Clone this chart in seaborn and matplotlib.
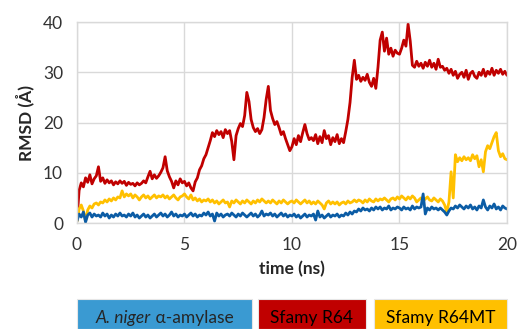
"""RMSD over time for three amylase models."""
import numpy as np
import pandas as pd
import matplotlib
matplotlib.use("Agg")
import matplotlib.pyplot as plt
import matplotlib.patches as mpatches
import seaborn as sns

# ── data (0.1 ns steps) ───────────────────────────────────────────────────────
TIME = np.linspace(0, 20, 201)

RMSD_RED = [
    0.5, 6.5, 8.0, 7.2, 9.0, 8.1, 9.6, 7.8, 8.8, 9.4,
    11.2, 8.3, 9.0, 7.9, 8.6, 8.0, 8.4, 7.6, 8.2, 7.8,
    8.4, 7.9, 8.3, 7.5, 8.1, 7.7, 7.9, 7.4, 8.0, 7.6,
    7.9, 8.4, 8.0, 9.2, 10.3, 8.8, 9.6, 8.9, 9.4, 10.1,
    11.0, 13.2, 10.4, 9.2, 8.3, 7.0, 8.4, 7.6, 8.8, 8.0,
    8.3, 7.4, 8.0, 7.0, 6.4, 8.2, 9.0, 10.6, 11.4, 12.8,
    13.6, 15.0, 16.4, 18.0, 17.2, 18.4, 17.6, 18.2, 17.0, 18.6,
    17.8, 18.4, 16.2, 12.6, 17.4, 18.8, 19.8, 19.2, 21.4, 26.0,
    24.2, 20.6, 19.0, 18.2, 18.8, 17.8, 18.6, 21.0, 24.6, 27.2,
    22.4, 20.8, 19.6, 20.2, 19.0, 17.6, 18.2, 16.8, 15.6, 14.4,
    15.2, 16.8, 15.6, 17.4, 16.2, 18.0, 19.6, 17.8, 16.6, 17.0,
    16.4, 17.6, 15.8, 17.2, 16.0, 18.4, 16.8, 17.4, 15.6, 17.0,
    16.2, 17.6, 15.8, 16.8, 16.0, 18.2, 20.6, 24.0, 29.0, 32.4,
    28.6, 29.4, 28.2, 29.0, 28.4, 29.6, 28.0, 27.2, 28.8, 26.8,
    31.0, 36.4, 38.0, 34.2, 36.8, 33.6, 34.8, 33.2, 34.4, 33.8,
    33.6, 34.8, 36.4, 35.2, 39.6, 36.2, 31.4, 31.0, 32.2, 31.2,
    31.8, 30.8, 32.0, 31.2, 32.4, 31.0, 31.8, 30.6, 32.6, 31.0,
    31.2, 30.4, 30.8, 29.8, 30.6, 29.4, 30.2, 28.8, 29.6, 30.0,
    29.0, 30.4, 28.6, 29.8, 30.2, 29.2, 28.8, 30.0, 29.4, 30.6,
    29.2, 30.2, 29.6, 30.8, 29.4, 30.4, 29.8, 30.6, 29.6, 30.2,
    29.4,
]

RMSD_YELLOW = [
    0.3, 2.8, 3.6, 2.4, 0.4, 2.6, 3.4, 3.0, 3.8, 4.0,
    3.6, 4.2, 4.0, 4.6, 4.2, 4.8, 4.4, 5.0, 4.6, 5.2,
    5.0, 6.4, 5.2, 5.8, 5.4, 5.8, 5.0, 5.6, 5.2, 4.6,
    5.2, 5.6, 5.0, 5.4, 4.8, 5.2, 5.6, 5.0, 5.4, 5.2,
    5.6, 5.0, 5.4, 4.8, 5.2, 5.6, 5.0, 4.6, 5.2, 5.4,
    5.8, 5.2, 4.8, 5.6, 4.6, 5.0, 4.4, 4.8, 4.2, 4.6,
    4.4, 4.8, 4.2, 4.6, 4.0, 4.4, 3.8, 4.2, 4.6, 4.0,
    4.2, 3.2, 4.4, 4.0, 4.6, 4.2, 3.8, 4.4, 4.0, 4.6,
    4.2, 3.8, 4.4, 4.0, 4.6, 4.2, 4.8, 4.4, 4.0, 4.4,
    4.0, 4.6, 4.2, 3.8, 4.4, 4.0, 4.6, 4.2, 3.8, 4.2,
    4.4, 4.0, 4.6, 4.2, 3.8, 4.2, 4.6, 4.0, 4.4, 3.8,
    4.2, 3.8, 4.4, 4.0, 3.6, 2.8, 4.0, 4.4, 3.8, 4.2,
    3.8, 4.2, 3.6, 4.0, 4.2, 3.8, 4.4, 4.0, 4.2, 4.6,
    4.2, 4.6, 4.4, 4.0, 4.6, 4.2, 4.8, 4.4, 4.2, 4.8,
    4.4, 4.8, 4.6, 5.0, 4.6, 4.2, 4.8, 5.0, 4.6, 5.2,
    4.8, 5.4, 5.0, 4.6, 5.2, 4.8, 5.4, 5.0, 4.2, 4.6,
    5.0, 4.4, 4.8, 5.2, 4.6, 4.4, 5.0, 4.6, 4.2, 4.8,
    4.4, 3.6, 2.2, 4.2, 10.2, 5.0, 13.6, 12.2, 13.0, 12.4,
    13.2, 12.6, 13.0, 12.4, 13.6, 12.8, 13.4, 11.2, 12.6, 10.2,
    14.2, 15.4, 14.8, 16.0, 17.2, 18.0, 14.4, 13.2, 13.8, 12.8,
    12.6,
]

RMSD_BLUE = [
    0.4, 1.8, 1.2, 2.2, 0.2, 1.6, 2.0, 1.2, 1.8, 1.4,
    1.6, 1.2, 2.0, 1.4, 1.8, 1.0, 1.6, 1.2, 1.8, 1.4,
    2.0, 1.4, 1.6, 1.2, 1.8, 1.4, 2.0, 1.2, 1.6, 1.0,
    1.4, 1.8, 1.2, 1.6, 1.0, 1.4, 1.8, 1.2, 1.6, 2.0,
    1.4, 1.8, 1.2, 1.6, 2.2, 1.4, 1.8, 1.2, 1.6, 1.4,
    1.8, 1.2, 1.6, 2.0, 1.4, 1.8, 1.2, 1.6, 1.4, 2.0,
    1.6, 2.2, 1.4, 1.8, 0.4, 2.0, 1.4, 1.8, 1.2, 1.6,
    1.8, 1.4, 2.0, 1.6, 1.2, 1.8, 1.4, 2.0, 1.6, 1.2,
    1.6, 2.0, 1.4, 1.8, 1.2, 1.6, 2.4, 1.4, 1.8, 1.6,
    2.0, 1.4, 1.8, 1.2, 1.6, 2.0, 1.4, 1.8, 1.2, 1.6,
    1.4, 1.8, 1.2, 1.6, 1.0, 1.4, 1.8, 1.2, 1.6, 1.4,
    1.8, 0.6, 2.4, 1.2, 1.6, 1.0, 1.4, 1.8, 1.2, 1.6,
    1.4, 1.8, 1.2, 1.6, 1.4, 2.0, 1.6, 2.2, 1.8, 2.4,
    2.2, 2.8, 2.4, 3.0, 2.6, 2.8, 2.4, 3.0, 2.6, 3.2,
    2.8, 3.2, 2.6, 3.0, 2.8, 3.4, 2.6, 3.0, 2.8, 3.2,
    3.0, 2.6, 3.2, 2.8, 3.0, 2.6, 3.4, 2.8, 3.2, 3.0,
    3.2, 5.8, 1.8, 3.0, 2.6, 3.2, 2.8, 3.0, 2.6, 3.0,
    2.6, 2.2, 1.6, 2.4, 3.0, 2.8, 3.4, 3.0, 3.6, 3.2,
    2.8, 3.4, 3.0, 3.6, 2.8, 3.2, 2.6, 3.4, 3.0, 4.6,
    3.2, 2.6, 3.4, 3.0, 3.8, 2.8, 3.2, 2.6, 3.4, 3.0,
    2.8,
]

LABELS = ["A. niger α-amylase", "Sfamy R64", "Sfamy R64MT"]
LINE_COLORS = ["#0B5CA5", "#C00000", "#FFC000"]
BOX_COLORS = ["#3A9AD2", "#C00000", "#FFC000"]

df = pd.DataFrame({"time": np.concatenate([TIME] * 3),
                   "rmsd": np.concatenate([RMSD_BLUE, RMSD_RED, RMSD_YELLOW]),
                   "model": np.repeat(LABELS, len(TIME))})

sns.set_style("whitegrid")
plt.rcParams["font.family"] = ["Lato", "DejaVu Sans"]
GRID = "#D9D9D9"
FS = 12.5

fig = plt.figure(figsize=(5.2, 3.29), dpi=100)
ax = fig.add_axes([0.148, 0.322, 0.827, 0.611])

# red first, then yellow, blue on top like the reference
order = [LABELS[1], LABELS[2], LABELS[0]]
pal = dict(zip(LABELS, LINE_COLORS))
sns.lineplot(data=df, x="time", y="rmsd", hue="model", hue_order=order,
             palette=pal, linewidth=2.0, legend=False, ax=ax)

ax.set_xlim(0, 20); ax.set_ylim(0, 40)
ax.set_xticks([0, 5, 10, 15, 20]); ax.set_yticks([0, 10, 20, 30, 40])
ax.grid(color=GRID, linewidth=1.0)
for s in ax.spines.values():
    s.set_color(GRID); s.set_linewidth(1.0)
ax.tick_params(labelsize=FS, colors="#333333", length=0, pad=10)
ax.set_xlabel("time (ns)", fontsize=FS, fontweight="bold", labelpad=6)
ax.set_ylabel("RMSD (Å)", fontsize=FS, fontweight="bold", labelpad=6)

# boxed legend below the plot
boxes = [(77, 252), (258, 366), (374, 507)]
W, H = 520, 329
r = fig.canvas.get_renderer()
for (x0, x1), lab, col in zip(boxes, LABELS, BOX_COLORS):
    fig.patches.append(mpatches.Rectangle((x0 / W, 0), (x1 - x0) / W, 1 - 299 / H,
                                          transform=fig.transFigure, fc=col,
                                          ec="#E6E6E6", lw=0.8))
    cx, cy = (x0 + x1) / 2 / W, 1 - 318 / H
    if lab.startswith("A. niger"):
        # italic species name followed by upright rest, centred together
        t1 = fig.text(0, cy, "A. niger", style="italic", fontsize=FS, va="center")
        t2 = fig.text(0, cy, " α-amylase", fontsize=FS, va="center")
        w1 = t1.get_window_extent(r).width / W
        w2 = t2.get_window_extent(r).width / W
        t1.set_x(cx - (w1 + w2) / 2)
        t2.set_x(cx - (w1 + w2) / 2 + w1)
    else:
        fig.text(cx, cy, lab, ha="center", va="center", fontsize=FS, color="black")

fig.savefig("out.png", dpi=100)
